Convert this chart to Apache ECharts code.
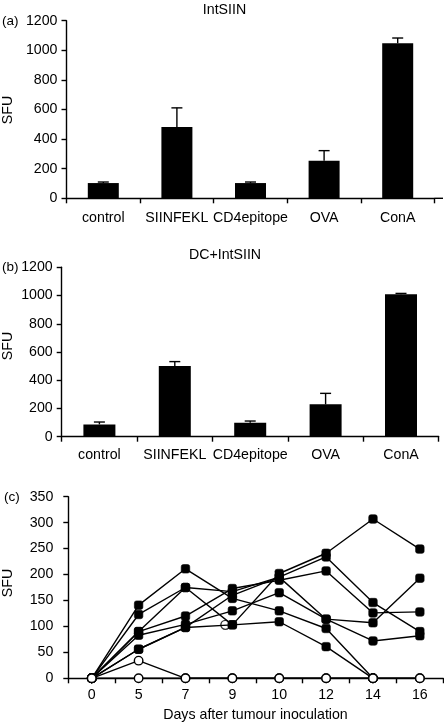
<!DOCTYPE html>
<html>
<head>
<meta charset="utf-8">
<script src="https://cdn.jsdelivr.net/npm/echarts@6/dist/echarts.min.js"></script>
<style>
html,body{margin:0;padding:0;background:#fff;}
#main{width:444px;height:722px;}
</style>
</head>
<body>
<div id="main"></div>
<script>
// ---------- DATA ----------
const barCategories = ['control', 'SIINFEKL', 'CD4epitope', 'OVA', 'ConA'];
const intSiinMean   = [103, 481, 103, 253, 1048];
const intSiinErrTop = [110, 611, 110, 322, 1083];
const dcSiinMean    = [87, 500, 99, 229, 1009];
const dcSiinErrTop  = [104, 532, 111, 307, 1015];
const barTicks = [0, 200, 400, 600, 800, 1000, 1200];

const days = ['0', '5', '7', '9', '10', '12', '14', '16'];
const mouseA = [0, 141, 211, 154, 130, 96, 0, null];
const mouseB = [0, 123, 175, 167, 195, 234, 146, 90];
const mouseC = [0, 90, 175, 103, 202, 241, 307, 249];
const mouseD = [0, 90, 120, 173, 189, 207, 126, 128];
const mouseE = [0, 83, 104, 130, 165, 114, 107, 193];
const mouseF = [0, 56, 98, 103, 109, 61, 0, null];
const mouseG = [0, 56, 98, 160, 195, 114, 72, 82];
const controlA = [0, 34, 0, 0, 0, 0, 0, 0];
const controlB = [0, 0, 0, 0, 0, 0, 0, 0];
const controlPoint = [null, null, null, 103, null, null, null, null];
const lineTicks = [0, 50, 100, 150, 200, 250, 300, 350];

// ---------- STYLE ----------
const FONT = 'Liberation Sans';
const FS = 14.2;
const BLACK = '#000';
const LW = 1.4;

const chart = echarts.init(document.getElementById('main'), null, {renderer: 'canvas'});

function xCat(gridIndex, data, margin) {
  return {
    type: 'category', gridIndex, data,
    axisLine: {lineStyle: {color: BLACK, width: LW}},
    axisTick: {show: true, inside: false, length: 5, lineStyle: {color: BLACK, width: LW}},
    axisLabel: {color: BLACK, fontFamily: FONT, fontSize: FS, margin, interval: 0},
    splitLine: {show: false}
  };
}
function yVal(gridIndex, ticks, margin) {
  const step = ticks[1] - ticks[0];
  return {
    type: 'value', gridIndex, min: ticks[0], max: ticks[ticks.length - 1], interval: step,
    axisLine: {show: true, lineStyle: {color: BLACK, width: LW}},
    axisTick: {show: true, inside: false, length: 5, lineStyle: {color: BLACK, width: LW}},
    axisLabel: {color: BLACK, fontFamily: FONT, fontSize: FS, margin, formatter: v => String(v)},
    splitLine: {show: false}
  };
}

function errorSeries(axisIndex, mean, top) {
  return {
    type: 'custom', xAxisIndex: axisIndex, yAxisIndex: axisIndex, z: 5,
    data: mean.map((m, i) => [i, m, top[i]]),
    renderItem: function (params, api) {
      const i = api.value(0);
      const p0 = api.coord([i, api.value(1)]);
      const p1 = api.coord([i, api.value(2)]);
      const st = {stroke: BLACK, lineWidth: LW};
      return {
        type: 'group',
        children: [
          {type: 'line', shape: {x1: p0[0], y1: p0[1], x2: p1[0], y2: p1[1]}, style: st},
          {type: 'line', shape: {x1: p1[0] - 5.5, y1: p1[1], x2: p1[0] + 5.5, y2: p1[1]}, style: st}
        ]
      };
    }
  };
}

function barSeries(axisIndex, mean, width) {
  return {
    type: 'bar', xAxisIndex: axisIndex, yAxisIndex: axisIndex, data: mean,
    barWidth: width, itemStyle: {color: BLACK}, z: 4
  };
}

const openStyle = {color: '#fff', borderColor: BLACK, borderWidth: LW};
function lineSeries(values, filled) {
  return {
    type: 'line', xAxisIndex: 2, yAxisIndex: 2,
    data: values.map(v => (v === 0 ? {value: v, symbol: 'circle', symbolSize: 8.5, itemStyle: openStyle} : v)),
    symbol: filled ? 'roundRect' : 'circle',
    symbolSize: filled ? 8.5 : 8.5,
    showAllSymbol: true,
    connectNulls: false,
    lineStyle: {color: BLACK, width: LW},
    itemStyle: filled ? {color: BLACK, borderColor: BLACK, borderWidth: 0.6} : openStyle,
    z: filled ? 4 : 3,
    animation: false
  };
}

const textStyle = (size) => `${size}px "Liberation Sans"`;

const option = {
  animation: false,
  backgroundColor: '#fff',
  grid: [
    {left: 66.5, top: 20.7, width: 368, height: 177.6},
    {left: 61.7, top: 267.3, width: 377, height: 169.4},
    {left: 68.3, top: 496.7, width: 375, height: 181.6}
  ],
  xAxis: [
    xCat(0, barCategories, 12.5),
    xCat(1, barCategories, 11.5),
    xCat(2, days, 10)
  ],
  yAxis: [
    yVal(0, barTicks, 9),
    yVal(1, barTicks, 9),
    yVal(2, lineTicks, 15)
  ],
  series: [
    barSeries(0, intSiinMean, 31),
    errorSeries(0, intSiinMean, intSiinErrTop),
    barSeries(1, dcSiinMean, 32),
    errorSeries(1, dcSiinMean, dcSiinErrTop),
    lineSeries(controlB, false),
    lineSeries(controlA, false),
    {
      type: 'scatter', xAxisIndex: 2, yAxisIndex: 2, data: controlPoint,
      symbol: 'circle', symbolSize: 9, symbolOffset: [-7, 0],
      itemStyle: openStyle, z: 3
    },
    lineSeries(mouseA, true),
    lineSeries(mouseB, true),
    lineSeries(mouseC, true),
    lineSeries(mouseD, true),
    lineSeries(mouseE, true),
    lineSeries(mouseF, true),
    lineSeries(mouseG, true)
  ],
  graphic: [
    {type: 'text', x: 2, y: 21, style: {text: '(a)', font: textStyle(13.5), fill: BLACK, verticalAlign: 'middle'}},
    {type: 'text', x: 2, y: 267, style: {text: '(b)', font: textStyle(13.5), fill: BLACK, verticalAlign: 'middle'}},
    {type: 'text', x: 4, y: 497, style: {text: '(c)', font: textStyle(13.5), fill: BLACK, verticalAlign: 'middle'}},
    {type: 'text', x: 224.5, y: 10, style: {text: 'IntSIIN', font: textStyle(FS), fill: BLACK, align: 'center', verticalAlign: 'middle'}},
    {type: 'text', x: 225, y: 255, style: {text: 'DC+IntSIIN', font: textStyle(FS), fill: BLACK, align: 'center', verticalAlign: 'middle'}},
    {type: 'text', x: 8, y: 110, rotation: Math.PI / 2, style: {text: 'SFU', font: textStyle(FS), fill: BLACK, align: 'center', verticalAlign: 'middle'}},
    {type: 'text', x: 8, y: 346, rotation: Math.PI / 2, style: {text: 'SFU', font: textStyle(FS), fill: BLACK, align: 'center', verticalAlign: 'middle'}},
    {type: 'text', x: 8, y: 583, rotation: Math.PI / 2, style: {text: 'SFU', font: textStyle(FS), fill: BLACK, align: 'center', verticalAlign: 'middle'}},
    {type: 'text', x: 255.5, y: 715, style: {text: 'Days after tumour inoculation', font: textStyle(FS), fill: BLACK, align: 'center', verticalAlign: 'middle'}},
    {type: 'line', shape: {x1: 434.5, y1: 198.3, x2: 443, y2: 198.3}, style: {stroke: BLACK, lineWidth: LW}}
  ]
};

chart.setOption(option);
</script>
</body>
</html>
